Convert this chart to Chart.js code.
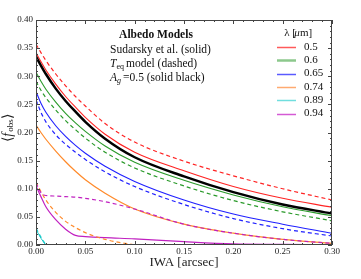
<!DOCTYPE html>
<html>
<head>
<meta charset="utf-8">
<script src="https://cdn.jsdelivr.net/npm/chart.js@4.4.0/dist/chart.umd.min.js"></script>
<style>
  html, body { margin: 0; padding: 0; background: #fff; }
  canvas { display: block; }
</style>
</head>
<body>
<canvas id="albedo" width="361" height="279"></canvas>
<script>
const iwa = [0, 0.005, 0.01, 0.02, 0.03, 0.04, 0.05, 0.07, 0.10, 0.15, 0.20, 0.25, 0.30];

const rojoSolido    = [0.342, 0.326, 0.311, 0.286, 0.264, 0.245, 0.227, 0.197, 0.165, 0.132, 0.104, 0.083, 0.067];
const rojoTeq       = [0.357, 0.342, 0.328, 0.304, 0.283, 0.264, 0.247, 0.216, 0.183, 0.149, 0.123, 0.100, 0.080];
const verdeSolido   = [0.307, 0.291, 0.277, 0.254, 0.234, 0.217, 0.202, 0.176, 0.147, 0.115, 0.089, 0.068, 0.052];
const verdeTeq      = [0.291, 0.275, 0.262, 0.240, 0.221, 0.205, 0.190, 0.165, 0.137, 0.105, 0.079, 0.059, 0.043];
const azulSolido    = [0.273, 0.252, 0.236, 0.212, 0.193, 0.177, 0.163, 0.140, 0.113, 0.080, 0.055, 0.037, 0.021];
const azulTeq       = [0.258, 0.236, 0.219, 0.196, 0.179, 0.165, 0.152, 0.130, 0.104, 0.072, 0.047, 0.029, 0.016];
const naranjaSolido = [0.213, 0.200, 0.188, 0.167, 0.148, 0.131, 0.116, 0.092, 0.064, 0.037, 0.021, 0.010, 0.003];
const naranjaTeq    = [0.112, 0.095, 0.080, 0.058, 0.042, 0.031, 0.022, 0.010, 0.000, null, null, null, null];
const cianSolido    = [0.028, 0.012, 0.000, null, null, null, null, null, null, null, null, null, null];
const cianTeq       = [0.030, 0.014, 0.000, null, null, null, null, null, null, null, null, null, null];
const magentaSolido = [0.105, 0.086, 0.068, 0.045, 0.028, 0.017, 0.015, 0.013, 0.011, 0.006, 0.002, 0.001, 0.000];
const magentaTeq    = [0.110, 0.093, 0.088, 0.087, 0.086, 0.085, 0.083, 0.077, 0.064, 0.037, 0.021, 0.010, 0.003];
const albedoNegro   = [0.335, 0.319, 0.304, 0.278, 0.256, 0.237, 0.219, 0.189, 0.156, 0.122, 0.094, 0.072, 0.056];

const longitudes = ["0.5", "0.6", "0.65", "0.74", "0.89", "0.94"];
const ticksX = [0, 0.05, 0.10, 0.15, 0.20, 0.25, 0.30];
const ticksY = [0, 0.05, 0.10, 0.15, 0.20, 0.25, 0.30, 0.35, 0.40];

const colores = ["#ff2424", "#2a9a2a", "#2020ff", "#ff8a2a", "#1ac8c8", "#c020c0"];
const coloresLeyenda = ["#ff5a5a", "#8cc88c", "#5a5aff", "#ffaa70", "#70dede", "#d45ad4"];

const puntos = (valores) => iwa.map((x, i) => ({ x: x, y: valores[i] }));

function serie(valores, color, guiones, ancho, orden) {
  return {
    data: puntos(valores),
    borderColor: color,
    backgroundColor: color,
    borderWidth: ancho,
    borderDash: guiones ? [4, 3] : [],
    pointRadius: 0,
    cubicInterpolationMode: 'monotone',
    spanGaps: false,
    order: orden
  };
}

const marco = {
  id: 'marco',
  afterDraw(chart) {
    const ctx = chart.ctx;
    const a = chart.chartArea;
    const sx = chart.scales.x;
    const sy = chart.scales.y;
    ctx.save();
    ctx.strokeStyle = "#444";
    ctx.lineWidth = 1;
    ctx.strokeRect(a.left + 0.5, a.top + 0.5, a.right - a.left - 1, a.bottom - a.top - 1);

    // marcas hacia dentro, mayores y menores
    ctx.beginPath();
    for (let i = 0; i <= 30; i++) {
      const v = i / 100;
      const px = Math.round(sx.getPixelForValue(v)) + 0.5;
      const largo = (i % 5 === 0) ? 4 : 2;
      ctx.moveTo(px, a.bottom); ctx.lineTo(px, a.bottom - largo);
      ctx.moveTo(px, a.top); ctx.lineTo(px, a.top + largo);
    }
    for (let i = 0; i <= 40; i++) {
      const v = i / 100;
      const py = Math.round(sy.getPixelForValue(v)) + 0.5;
      const largo = (i % 5 === 0) ? 4 : 2;
      ctx.moveTo(a.left, py); ctx.lineTo(a.left + largo, py);
      ctx.moveTo(a.right, py); ctx.lineTo(a.right - largo, py);
    }
    ctx.stroke();

    ctx.fillStyle = "#222";
    ctx.font = "9px 'Liberation Serif'";
    ctx.textAlign = "center";
    ctx.textBaseline = "middle";
    ticksX.forEach(v => ctx.fillText(v.toFixed(2), sx.getPixelForValue(v), a.bottom + 7));
    ctx.textAlign = "right";
    ticksY.forEach(v => ctx.fillText(v.toFixed(2), a.left - 3, sy.getPixelForValue(v)));

    ctx.textAlign = "center";
    ctx.font = "13px 'Liberation Serif'";
    ctx.fillText("IWA [arcsec]", (a.left + a.right) / 2, 263);

    // titulo del eje y
    ctx.save();
    ctx.translate(8, 128);
    ctx.rotate(-Math.PI / 2);
    ctx.textAlign = "left";
    const p1 = "⟨", p2 = "f", p3 = "obs", p4 = "⟩";
    ctx.font = "14px 'Liberation Serif'";
    const w1 = ctx.measureText(p1).width, w4 = ctx.measureText(p4).width;
    ctx.font = "italic 14px 'Liberation Serif'";
    const w2 = ctx.measureText(p2).width + 1;
    ctx.font = "9px 'Liberation Serif'";
    const w3 = ctx.measureText(p3).width;
    let x0 = -(w1 + w2 + w3 + w4) / 2;
    ctx.font = "14px 'Liberation Serif'";
    ctx.fillText(p1, x0, 0); x0 += w1;
    ctx.font = "italic 14px 'Liberation Serif'";
    ctx.fillText(p2, x0, 0); x0 += w2;
    ctx.font = "9px 'Liberation Serif'";
    ctx.fillText(p3, x0, 3); x0 += w3;
    ctx.font = "14px 'Liberation Serif'";
    ctx.fillText(p4, x0, 0);
    ctx.restore();

    // texto de modelos
    ctx.fillStyle = "#111";
    ctx.textAlign = "center";
    ctx.font = "bold 11.5px 'Liberation Serif'";
    ctx.fillText("Albedo Models", 156, 35);
    ctx.textAlign = "left";
    ctx.font = "11.5px 'Liberation Serif'";
    ctx.fillText("Sudarsky et al. (solid)", 110, 50);
    let xt = 110;
    ctx.font = "italic 11.5px 'Liberation Serif'";
    ctx.fillText("T", xt, 64); xt += ctx.measureText("T").width;
    ctx.font = "8px 'Liberation Serif'";
    ctx.fillText("eq", xt, 67); xt += ctx.measureText("eq").width + 2;
    ctx.font = "11.5px 'Liberation Serif'";
    ctx.fillText("model (dashed)", xt, 64);
    xt = 110;
    ctx.font = "italic 11.5px 'Liberation Serif'";
    ctx.fillText("A", xt, 78); xt += ctx.measureText("A").width;
    ctx.font = "italic 8px 'Liberation Serif'";
    ctx.fillText("g", xt, 81); xt += ctx.measureText("g").width + 2;
    ctx.font = "11.5px 'Liberation Serif'";
    ctx.fillText("=0.5 (solid black)", xt, 78);

    // leyenda
    ctx.textAlign = "center";
    ctx.font = "11px 'Liberation Serif'";
    ctx.fillText("λ [", 290, 33);
    ctx.font = "italic 11px 'Liberation Serif'";
    ctx.fillText("μ", 297, 33);
    ctx.font = "11px 'Liberation Serif'";
    ctx.fillText("m]", 306, 33);
    ctx.textAlign = "left";
    longitudes.forEach((t, i) => {
      const y = 47 + i * 13.3;
      ctx.strokeStyle = coloresLeyenda[i];
      ctx.lineWidth = i === 1 ? 2.5 : 1.5;
      ctx.beginPath();
      ctx.moveTo(277, Math.round(y) + 0.5);
      ctx.lineTo(296, Math.round(y) + 0.5);
      ctx.stroke();
      ctx.fillStyle = "#111";
      ctx.fillText(t, 304, y);
    });
    ctx.restore();
  }
};

new Chart(document.getElementById("albedo"), {
  type: 'line',
  data: {
    datasets: [
      serie(albedoNegro, "#000", false, 2.5, 0),
      serie(rojoSolido, colores[0], false, 1.1, 1),
      serie(rojoTeq, colores[0], true, 1.2, 1),
      serie(verdeSolido, colores[1], false, 1.1, 1),
      serie(verdeTeq, colores[1], true, 1.2, 1),
      serie(azulSolido, colores[2], false, 1.1, 1),
      serie(azulTeq, colores[2], true, 1.2, 1),
      serie(magentaTeq, colores[5], true, 1.2, 1),
      serie(naranjaSolido, colores[3], false, 1.2, 2),
      serie(naranjaTeq, colores[3], true, 1.2, 1),
      serie(cianSolido, colores[4], false, 1, 1),
      serie(cianTeq, colores[4], true, 1.2, 1),
      serie(magentaSolido, colores[5], false, 1.2, 1)
    ]
  },
  options: {
    responsive: false,
    animation: false,
    layout: { padding: { left: 36, right: 29, top: 20, bottom: 34 } },
    scales: {
      x: { type: 'linear', min: 0, max: 0.30, display: false },
      y: { type: 'linear', min: 0, max: 0.40, display: false }
    },
    plugins: {
      legend: { display: false },
      tooltip: { enabled: false }
    }
  },
  plugins: [marco]
});
</script>
</body>
</html>
